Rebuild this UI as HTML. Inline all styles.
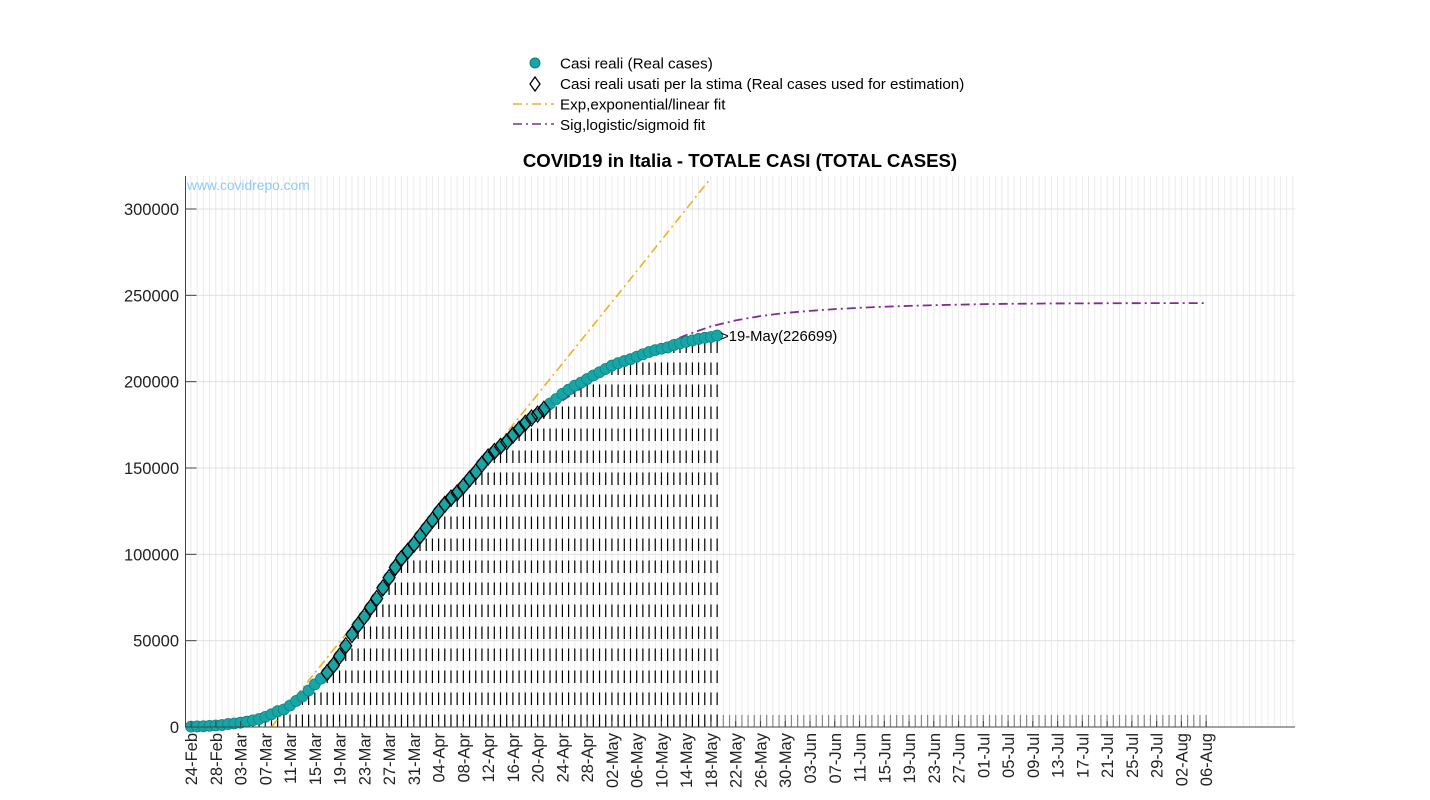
<!DOCTYPE html>
<html><head><meta charset="utf-8"><style>
body{margin:0;background:#fff;}
svg{display:block;font-family:"Liberation Sans",Arial,sans-serif;}
</style></head><body>
<svg id="chart" width="1430" height="800" viewBox="0 0 1430 800" xmlns="http://www.w3.org/2000/svg">
<g id="legend">
 <g><circle cx="535" cy="63" r="5" fill="#17a6a6" stroke="#0e7d7d"/><text x="560" y="68.5" font-size="15.2">Casi reali (Real cases)</text></g>
 <g><polygon points="535,77 540,84 535,91 530,84" fill="none" stroke="#000" stroke-width="1.3"/><text x="560" y="89" font-size="15.2">Casi reali usati per la stima (Real cases used for estimation)</text></g>
 <g><line x1="513" y1="104" x2="554" y2="104" stroke="#edb120" stroke-width="1.5" stroke-dasharray="9 4 2 4"/><text x="560" y="109.5" font-size="15.2">Exp,exponential/linear fit</text></g>
 <g><line x1="513" y1="124" x2="554" y2="124" stroke="#7e2f8e" stroke-width="1.5" stroke-dasharray="9 4 2 4"/><text x="560" y="130" font-size="15.2">Sig,logistic/sigmoid fit</text></g>
</g>
<text x="740" y="167" font-size="18.6" font-weight="bold" text-anchor="middle">COVID19 in Italia - TOTALE CASI (TOTAL CASES)</text>
<g id="grid"></g>
<g id="stems"></g>
<g id="lines"></g>
<g id="marks"></g>
<g id="axes"></g>
<text x="187" y="190" font-size="13.8" fill="#8ccbf5">www.covidrepo.com</text>
</svg>
<script>
const realCases=[229,322,400,650,888,1128,1694,2036,2502,3089,3858,4636,5883,7375,9172,10149,12462,15113,17660,21157,24747,27980,31506,35713,41035,47021,53578,59138,63927,69176,74386,80539,86498,92472,97689,101739,105792,110574,115242,119827,124632,128948,132547,135586,139422,143626,147577,152271,156363,159516,162488,165155,168941,172434,175925,178972,181228,183957,187327,189973,192994,195351,197675,199414,201505,203591,205463,207428,209328,210717,211938,213013,214457,215858,217185,218268,219070,219814,221216,222104,223096,223885,224760,225435,225886,226699];
const estStart=22, estEnd=57;
const expDays=[13,30,50,70,84];
const expVals=[0,76000,166000,255000,318000];
const sigDays=[0,4,8,12,16,20,24,28,32,36,40,44,48,52,56,60,64,68,72,76,80,84,88,92,96,100,104,108,112,116,120,124,128,132,136,140,144,148,152,156,160,164];
const sigVals=[300,900,2500,6500,13500,25500,42000,62000,83000,103000,122000,139000,154000,167000,178500,189000,198500,207000,214500,221000,227000,232000,235500,238000,239800,241000,242000,242800,243400,243900,244300,244600,244900,245100,245200,245300,245350,245400,245450,245480,245500,245500];
const yTicks=[0,50000,100000,150000,200000,250000,300000];
const months=["Jan","Feb","Mar","Apr","May","Jun","Jul","Aug"];
const lastDay=164;

const NS="http://www.w3.org/2000/svg";
const X=d=>191+d*6.19;
const Y=v=>727-v*518/300000;
const L=185.5,R=1295,T=176,B=727;
function mk(tag,attrs,parent){const e=document.createElementNS(NS,tag);for(const k in attrs)e.setAttribute(k,attrs[k]);parent.appendChild(e);return e;}
const grid=document.getElementById('grid'),stems=document.getElementById('stems'),lines=document.getElementById('lines'),marks=document.getElementById('marks'),axes=document.getElementById('axes');
function dateLabel(d){const dt=new Date(Date.UTC(2020,1,24+d));const dd=String(dt.getUTCDate()).padStart(2,'0');return dd+'-'+months[dt.getUTCMonth()];}
for(let d=0;d<=178;d++){const g=mk('line',{x1:X(d),x2:X(d),y1:T,y2:B,stroke:'#ebebeb','stroke-width':1},grid);

}
yTicks.forEach(v=>{const g=mk('line',{x1:L,x2:R,y1:Y(v),y2:Y(v),stroke:'#e0e0e0','stroke-width':1},grid);

});
for(let d=0;d<=lastDay;d++){const v=d<realCases.length?realCases[d]:7000;const s=mk('line',{x1:X(d),x2:X(d),y1:B,y2:Y(v),stroke:d<realCases.length?'#000':'#888','stroke-width':1.2,'stroke-dasharray':'12.5 9.5'},stems);

}
const pe=mk('polyline',{points:expDays.map((d,i)=>X(d)+','+Y(expVals[i])).join(' '),fill:'none',stroke:'#edb120','stroke-width':1.6,'stroke-dasharray':'9 4 2 4'},lines);


const ps=mk('polyline',{points:sigDays.map((d,i)=>X(d)+','+Y(sigVals[i])).join(' '),fill:'none',stroke:'#7e2f8e','stroke-width':1.8,'stroke-dasharray':'9 4 2 4'},lines);


realCases.forEach((v,d)=>{const c=mk('circle',{cx:X(d),cy:Y(v),r:5.5,fill:'#17a6a6',stroke:'#0f8585','stroke-width':0.8},marks);

});
for(let d=estStart;d<=estEnd;d++){const x=X(d),y=Y(realCases[d]);const p=mk('polygon',{points:`${x},${y-8} ${x+6},${y} ${x},${y+8} ${x-6},${y}`,fill:'none',stroke:'#000','stroke-width':1.2},marks);

}
const last=realCases.length-1;
const an=mk('text',{x:X(last)+3,y:Y(realCases[last])+5.5,'font-size':14.8},marks);an.textContent='>'+dateLabel(last)+'('+realCases[last]+')';


const ay=mk('line',{x1:L,x2:L,y1:T,y2:B,stroke:'#444','stroke-width':1},axes);


const ax=mk('line',{x1:L,x2:R,y1:B,y2:B,stroke:'#444','stroke-width':1},axes);


yTicks.forEach(v=>{mk('line',{x1:L,x2:L+11,y1:Y(v),y2:Y(v),stroke:'#444'},axes);
const t=mk('text',{x:179,y:Y(v)+6,'font-size':16.5,'text-anchor':'end',fill:'#222'},axes);t.textContent=v;

});
for(let d=0;d<=lastDay;d+=4){const x=X(d);mk('line',{x1:x,x2:x,y1:B,y2:B-6,stroke:'#444'},axes);
const t=mk('text',{x:0,y:0,'font-size':16.5,'text-anchor':'end',fill:'#222',transform:`translate(${x+6},${B+6}) rotate(-90)`},axes);t.textContent=dateLabel(d);

}
</script>
</body></html>
